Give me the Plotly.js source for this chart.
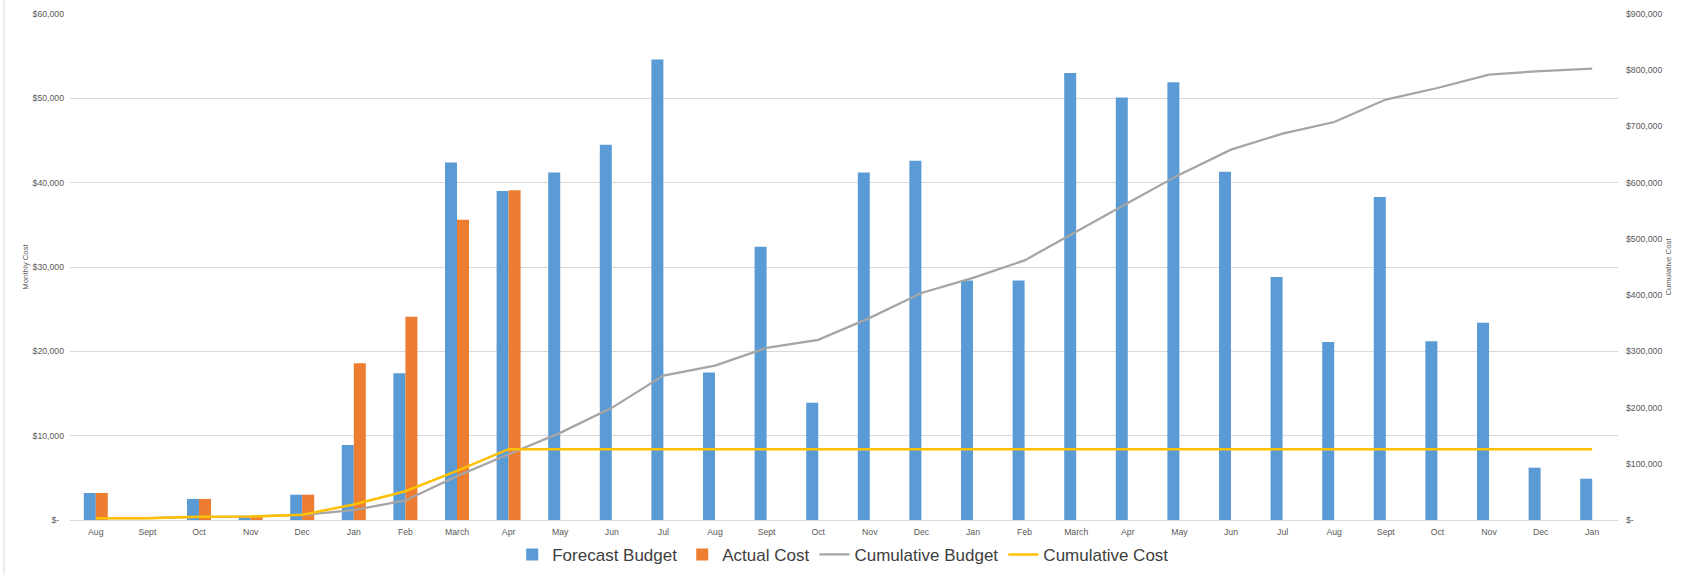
<!DOCTYPE html>
<html>
<head>
<meta charset="utf-8">
<script src="https://cdn.plot.ly/plotly-3.0.1.min.js"></script>
<style>
  html, body { margin: 0; padding: 0; background: #ffffff; }
  #chart { width: 1684px; height: 575px; }
</style>
</head>
<body>
<div id="chart"></div>
<script>
// Month labels along the timeline (Aug through the following-year Jan)
const months = [
  'Aug', 'Sept', 'Oct', 'Nov', 'Dec', 'Jan', 'Feb', 'March', 'Apr', 'May', 'Jun', 'Jul',
  'Aug', 'Sept', 'Oct', 'Nov', 'Dec', 'Jan', 'Feb', 'March', 'Apr', 'May', 'Jun', 'Jul',
  'Aug', 'Sept', 'Oct', 'Nov', 'Dec', 'Jan'
];

// Monthly figures (left axis)
const forecastBudget = [
  3200, 0, 2500, 500, 3000, 8900, 17400, 42400, 39000, 41200, 44500, 54600,
  17500, 32400, 13900, 41200, 42600, 28400, 28400, 53000, 50100, 51900, 41300, 28800,
  21100, 38300, 21200, 23400, 6200, 4900
];
const actualCost = [
  3200, null, 2500, 500, 3000, 18600, 24100, 35600, 39100, null, null, null,
  null, null, null, null, null, null, null, null, null, null, null, null,
  null, null, null, null, null, null
];

// Running totals (right axis)
const cumulativeBudget = [
  3200, 3200, 5700, 6200, 9200, 17600, 34800, 78000, 117000, 155000, 199500, 256800,
  274500, 306300, 320500, 359500, 403800, 430600, 461800, 513500, 563900, 614300, 658700, 687200,
  707900, 747800, 768400, 792000, 798600, 802700
];
const cumulativeCost = [
  3200, 3200, 5700, 6200, 9200, 27700, 51200, 87400, 126000, 126000, 126000, 126000,
  126000, 126000, 126000, 126000, 126000, 126000, 126000, 126000, 126000, 126000, 126000, 126000,
  126000, 126000, 126000, 126000, 126000, 126000
];

// Axis ticks
const monthlyTickVals = [0, 10000, 20000, 30000, 40000, 50000, 60000];
const monthlyTickText = ['$-\u00a0\u00a0', '$10,000', '$20,000', '$30,000', '$40,000', '$50,000', '$60,000'];
const cumulativeTickVals = [0, 100000, 200000, 300000, 400000, 500000, 600000, 700000, 800000, 900000];
const cumulativeTickText = ['$-', '$100,000', '$200,000', '$300,000', '$400,000', '$500,000',
  '$600,000', '$700,000', '$800,000', '$900,000'];

const slots = months.map((_, i) => i);
const FONT = '"Liberation Sans", Arial, sans-serif';
const GREY_TEXT = '#595959';
const GRID = '#D9D9D9';

const traces = [
  {
    type: 'bar', name: 'Forecast Budget', x: slots, y: forecastBudget,
    marker: { color: '#5B9BD5' }, yaxis: 'y'
  },
  {
    type: 'bar', name: 'Actual Cost', x: slots, y: actualCost,
    marker: { color: '#ED7D31' }, yaxis: 'y'
  },
  {
    type: 'scatter', mode: 'lines', name: 'Cumulative Budget', x: slots, y: cumulativeBudget,
    line: { color: '#A5A5A5', width: 2.25 }, yaxis: 'y2'
  },
  {
    type: 'scatter', mode: 'lines', name: 'Cumulative Cost', x: slots, y: cumulativeCost,
    line: { color: '#FFC000', width: 2.5 }, yaxis: 'y2'
  }
];

const layout = {
  width: 1684, height: 575,
  margin: { l: 70, r: 66, t: 14, b: 55, pad: 0, autoexpand: false },
  paper_bgcolor: '#ffffff', plot_bgcolor: '#ffffff',
  font: { family: FONT, color: GREY_TEXT, size: 9 },
  barmode: 'group', bargap: 0.535, bargroupgap: 0,
  showlegend: true,
  legend: {
    orientation: 'h', x: 0.4995, xanchor: 'center', y: -0.069, yanchor: 'middle',
    font: { family: FONT, size: 17, color: '#404040' },
    traceorder: 'normal', bgcolor: 'rgba(0,0,0,0)', itemwidth: 30
  },
  xaxis: {
    range: [-0.5, 29.5], tickmode: 'array', tickvals: slots, ticktext: months,
    showgrid: false, zeroline: false, showline: true, linecolor: GRID, linewidth: 1,
    ticks: '', ticklabelstandoff: 4,
    tickfont: { family: FONT, size: 8.7, color: GREY_TEXT }, automargin: false
  },
  yaxis: {
    range: [0, 60000], tickmode: 'array', tickvals: monthlyTickVals, ticktext: monthlyTickText,
    showgrid: true, gridcolor: GRID, gridwidth: 1, zeroline: false, showline: false,
    ticks: '', ticklabelstandoff: 5,
    tickfont: { family: FONT, size: 8.7, color: GREY_TEXT }, automargin: false,
    title: { text: 'Monthly Cost', font: { family: FONT, size: 7.8, color: GREY_TEXT }, standoff: 2 }
  },
  yaxis2: {
    overlaying: 'y', side: 'right', range: [0, 900000],
    tickmode: 'array', tickvals: cumulativeTickVals, ticktext: cumulativeTickText,
    showgrid: false, zeroline: false, showline: false, ticks: '', ticklabelstandoff: 7,
    tickfont: { family: FONT, size: 8.7, color: GREY_TEXT }, automargin: false,
    title: { text: 'Cumulative Cost', font: { family: FONT, size: 7.8, color: GREY_TEXT }, standoff: 4 }
  },
  shapes: [
    {
      type: 'line', xref: 'paper', yref: 'paper',
      x0: -0.0426, x1: -0.0426, y0: -0.2, y1: 1.2,
      line: { color: GRID, width: 1 }
    }
  ]
};

Plotly.newPlot('chart', traces, layout, { displayModeBar: false, staticPlot: true });
</script>
</body>
</html>
